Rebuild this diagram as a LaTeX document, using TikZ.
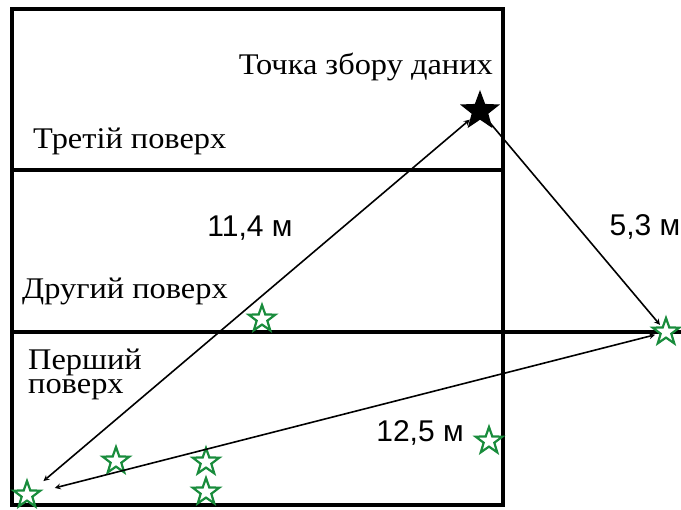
\documentclass[tikz,border=0pt]{standalone}
\usepackage{fontspec}
\setmainfont[FakeStretch=1.08]{Liberation Serif}
\newfontfamily\numfont{Liberation Sans}
\usetikzlibrary{shapes.geometric}

\definecolor{sensorgreen}{RGB}{25,140,60}
\tikzset{
  wall/.style={line width=4pt},
  sensor/.style={star, star points=5, star point ratio=2.5, draw=sensorgreen,
    fill=white, line width=2.2pt, minimum size=28pt, inner sep=0pt},
  hub/.style={star, star points=5, star point ratio=2.4, fill=black,
    minimum size=42pt, inner sep=0pt},
  floorlabel/.style={font=\fontsize{30}{24}\selectfont, anchor=base west, inner sep=0pt},
  distlabel/.style={font=\numfont\fontsize{30}{30}\selectfont, inner sep=0pt},
  link/.style={>=stealth, line width=1.6pt}
}

\begin{document}
\begin{tikzpicture}[x=1pt,y=-1pt]
        \useasboundingbox (0,0) rectangle (681,510);
        % building
        \draw[wall] (12,9) rectangle (503,505);
        \draw[wall] (12,170)--(503,170);
        \draw[wall] (12,332)--(681,332);
        % floors
        \node[floorlabel] (third) at (33,149) {Третій поверх};
        \node[floorlabel] (second) at (22,299) {Другий поверх};
        \node[floorlabel, align=left] (first) at (28,394) {Перший\\поверх};
        \node[floorlabel, anchor=base east] (hublabel) at (493,75) {Точка збору даних};
        % data point and sensors
        \node[hub] (hub) at (480,111) {};
        \node[sensor] (s1) at (27,495) {};
        \node[sensor] (s2) at (116,461) {};
        \node[sensor] (s3) at (206,462) {};
        \node[sensor] (s4) at (206,492) {};
        \node[sensor] (s5) at (489,441) {};
        \node[sensor] (s6) at (262,319) {};
        \node[sensor] (s7) at (666,332) {};
        % distances
        \draw[link,<->,shorten <=13pt] (s1)--(hub);
        \draw[link,->,shorten <=-8pt,shorten >=2pt] (hub)--(s7);
        \draw[link,<->,shorten <=14pt,shorten >=4pt] (s1)--(s7);
        \node[distlabel] (d1) at (250,228) {11,4 м};
        \node[distlabel] (d2) at (645,227) {5,3 м};
        \node[distlabel] (d3) at (420,433) {12,5 м};
    \end{tikzpicture}
\end{document}
